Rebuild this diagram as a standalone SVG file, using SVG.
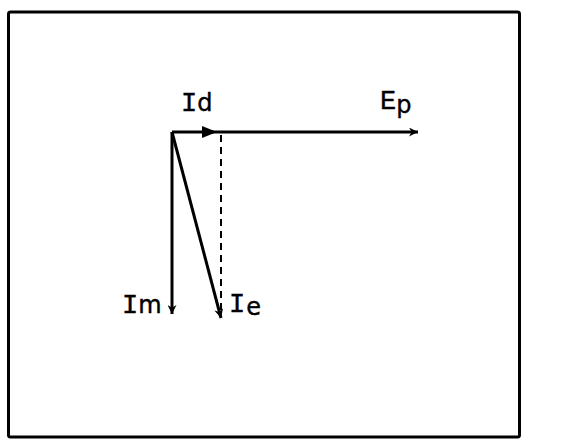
<svg xmlns="http://www.w3.org/2000/svg" width="582" height="440" viewBox="0 0 582 440">
<style>
.ln{stroke:#000;stroke-width:3;fill:none}
.dash{stroke:#000;stroke-width:2;stroke-dasharray:7 5;fill:none}
.lbl{font-family:"Liberation Mono","DejaVu Sans Mono",monospace;font-size:27px;fill:#000;stroke:#000;stroke-width:0.4}
.sub{font-family:"DejaVu Sans","Liberation Sans",sans-serif;font-size:24px}
</style>
<defs>
<marker id="ah2" viewBox="0 0 10 10" refX="10" refY="5" markerWidth="14" markerHeight="9" orient="auto" markerUnits="userSpaceOnUse">
<path d="M0,0 L10,5 L0,10 L3,5 Z" fill="#000"/>
</marker>
</defs>
<rect x="8.5" y="12" width="511" height="425" rx="2" fill="#fff" stroke="#000" stroke-width="3"/>
<g id="connectors">
<line class="ln" x1="172" y1="132" x2="418" y2="132" marker-end="url(#ah2)"/>
<path d="M202,126 L217,132 L202,138 Z" fill="#000"/>
<line class="dash" x1="221" y1="135" x2="221" y2="316"/>
<line class="ln" x1="172" y1="132" x2="172" y2="314" marker-end="url(#ah2)"/>
<line class="ln" x1="172" y1="132" x2="221" y2="318" marker-end="url(#ah2)"/>
</g>
<g id="Id"><text class="lbl" x="181" y="111">I<tspan class="sub" dx="0">d</tspan></text></g>
<g id="Ep"><text class="lbl" x="380" y="109">E<tspan class="sub" dx="0" dy="4">p</tspan></text></g>
<g id="Im"><text class="lbl" x="122" y="313">I<tspan class="sub" dx="0">m</tspan></text></g>
<g id="Ie"><text class="lbl" x="229" y="312">I<tspan class="sub" dx="1" dy="3">e</tspan></text></g>
</svg>
